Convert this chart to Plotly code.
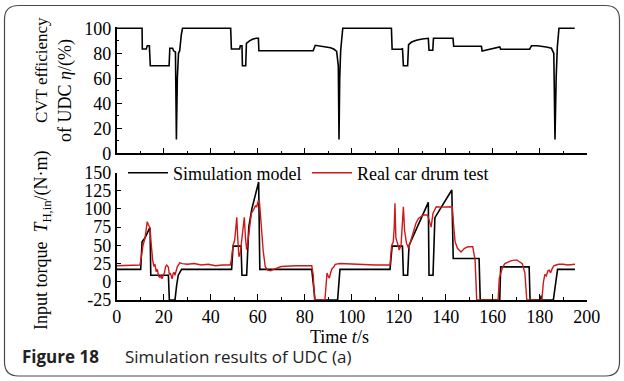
import plotly.graph_objects as go

# ---------------- data ----------------
# CVT efficiency of UDC (top panel)
eff_t = [0, 10.8, 10.9, 12.6, 13.0, 13.9, 14.3, 22.3, 22.6, 23.8, 24.2, 25.0, 25.4, 25.8, 26.3, 26.8, 27.5, 28.0,
         48.5, 48.8, 52.3, 52.6, 53.3, 53.5, 54.9, 55.2, 56.5, 58.0, 59.4, 60.3, 60.5,
         83.6, 84.5, 87.0, 89.0, 91.0, 92.5, 93.6, 94.3, 94.6, 94.9, 95.3, 96.2,
         116.9, 117.2, 121.3, 121.6, 122.0, 123.8, 124.2, 125.5, 127.5, 130.0, 132.6, 132.9, 134.5, 134.8,
         143.1, 143.4, 155.2, 155.5, 158.0, 161.0, 163.0, 163.4, 175.7, 176.5, 179.0, 182.8, 185.0, 186.0,
         186.5, 187.0, 187.5, 188.2, 194.9]
eff_v = [100, 100, 83.5, 83.5, 86, 86, 70, 70, 84, 84, 82, 81, 11, 60, 80, 82, 95, 100,
         100, 83.5, 83.5, 86, 86, 70, 70, 88, 90, 91.5, 92, 92, 82,
         82, 86.4, 85.8, 85.2, 84.4, 83.2, 81.5, 70, 11, 60, 82, 100,
         100, 83.3, 83.3, 84, 70, 70, 87, 89, 90.5, 91.5, 92, 82.5, 82.5, 92,
         92, 85.6, 85.6, 81.8, 83, 84.5, 85, 83.3, 83.3, 86, 86, 85, 84, 80,
         11, 60, 85, 100, 100]

# Input torque: simulation model
sim_t = [0, 10.2, 10.8, 12.0, 13.9, 14.2, 14.5, 22.0, 22.4, 24.8, 25.5, 26.2, 27.6,
         48.9, 49.5, 52.9, 53.3, 55.3, 56.2, 57.5, 60.4, 60.9,
         83.0, 84.4, 94.0, 95.0,
         116.3, 117.2, 121.6, 122.0, 123.8, 124.4, 132.6, 132.9, 134.6, 135.4, 142.6, 143.2,
         154.2, 154.7, 163.0, 163.4, 175.5, 175.9, 180.4, 180.6, 180.8, 185.8, 187.6, 195.0]
sim_v = [17, 17, 55, 60, 73, 73, 9, 9, -25, -25, -5, 9, 17,
         17, 49, 49, 9, 9, 75, 100, 137, 17,
         17, -25, -25, 17,
         17, 49, 49, 9, 9, 50, 109, 9, 9, 88, 126, 32,
         32, -25, -25, 20.5, 20.5, -25, -25, -19, -25, -25, 17, 17]

# Input torque: real car drum test
real_t = [0, 5, 9.9, 10.5, 11.2, 12.0, 12.5, 13.0, 13.4, 14.2, 14.6, 14.9, 15.3, 15.8, 16.3, 16.8, 17.3, 17.8,
          18.4, 18.8, 19.3, 19.8, 20.3, 20.8, 21.3, 22.0, 22.4, 22.8, 23.2, 23.6, 24.0, 24.4, 24.8, 25.3,
          25.8, 26.3, 26.8, 28, 30, 33, 36, 39, 42, 45, 48.3,
          48.8, 49.5, 50.2, 50.7, 51.1, 51.5, 52.0, 52.6, 53.2, 53.8, 54.3, 54.8, 55.3, 56.0, 56.6, 57.3,
          58.2, 59.0, 59.6, 60.3, 60.8, 61.5, 62.3, 63.2, 64.3, 65.5, 67, 70, 73, 76, 80, 83,
          83.6, 84.2, 88.6, 89.1, 89.5, 90.0, 90.5, 91.0, 91.6, 92.3, 93.0, 95, 100, 105, 110, 116.3,
          117.0, 117.7, 118.1, 118.4, 118.8, 119.5, 120.2, 121.0, 121.5, 122.0, 122.5, 123.3, 124.2,
          125.0, 126.2, 127.3, 128.4, 129.5, 130.5, 132.3, 133.3, 133.8, 134.6, 136.0, 138, 140, 142.8,
          143.3, 144.0, 145.0, 146.5, 148.0, 149.5, 151.5, 152.5, 153.2,
          162.3, 162.8, 163.4, 164.2, 165.2, 166.5, 168.0, 170.2, 171.6, 172.6, 173.2, 173.7, 174.5,
          180.9, 181.6, 182.2, 182.8, 183.5, 184.1, 184.6, 185.3, 186.0, 187.0, 188.1, 190, 192, 195]
real_v = [22, 22, 23, 35, 50, 59, 68, 82.5, 79, 74, 55, 40, 30, 21, 24, 14, 17, 8,
          6, 9, 4, 9, 12, 21, 23, 20, 10, 12, 9, 4, 11, 13, 9, 16,
          21, 23, 26, 25, 24, 25, 23, 24, 22, 23, 23,
          30, 50, 57, 70, 88.5, 60, 34.5, 40, 55, 70, 88.5, 60, 44, 60, 76, 94,
          98.5, 104, 103, 112, 108, 75, 43.6, 20.7, 16, 15, 17.4, 21, 22, 22, 22, 22,
          10, -25, -25, 0, 12, 8, 5, 12, 18, 20, 24, 25, 24, 24, 23, 23,
          50, 55, 75, 107.7, 60, 52.8, 43.6, 50, 80, 103, 70, 53, 46,
          55, 71, 80, 87, 90, 91.7, 91.7, 82.5, 75, 94, 103, 102.5, 103, 103,
          80, 55, 46, 41, 46, 48, 48, 30, -25,
          -25, 5, 12, 20, 25, 27, 29, 30, 27, 25, 18, 12, -25,
          -25, 0, 10, 8, 15, 16, 12, 18, 22, 23, 24, 24, 23, 24]

# axis ticks / labels
x_ticks = [0, 20, 40, 60, 80, 100, 120, 140, 160, 180, 200]
x_labels = [str(v) for v in x_ticks]
eff_ticks = [0, 20, 40, 60, 80, 100]
eff_labels = [str(v) for v in eff_ticks]
tq_ticks = [-25, 0, 25, 50, 75, 100, 125, 150]
tq_labels = [str(v) for v in tq_ticks]

# ---------------- figure ----------------
W, H = 624, 381
SERIF = "Liberation Serif"
RED = "#d01818"

def px(x):
    return x / W

def py(y):
    return 1 - y / H

fig = go.Figure()
fig.add_trace(go.Scatter(x=eff_t, y=eff_v, mode="lines", line=dict(color="black", width=1.6),
                         showlegend=False, xaxis="x", yaxis="y"))
fig.add_trace(go.Scatter(x=sim_t, y=sim_v, mode="lines", name="Simulation model",
                         line=dict(color="black", width=1.6), xaxis="x2", yaxis="y2"))
fig.add_trace(go.Scatter(x=real_t, y=real_v, mode="lines", name="Real car drum test",
                         line=dict(color=RED, width=1.4), xaxis="x2", yaxis="y2"))

axis_common = dict(showline=True, linecolor="black", linewidth=1.5, ticks="inside",
                   tickcolor="black", tickwidth=1.2, showgrid=False, zeroline=False,
                   automargin=False,
                   tickfont=dict(family=SERIF, size=18, color="black"))

xdom = [px(116.7), px(586.7)]
fig.update_layout(
    template="none",
    width=W, height=H, autosize=False,
    margin=dict(l=0, r=0, t=0, b=0, pad=0, autoexpand=False),
    paper_bgcolor="white", plot_bgcolor="white",
    xaxis=dict(domain=xdom, anchor="y", range=[0, 200], tickvals=x_ticks, ticktext=x_labels,
               showticklabels=False, ticklen=6,
               minor=dict(dtick=10, tick0=0, ticks="inside", ticklen=3, tickcolor="black"),
               **axis_common),
    yaxis=dict(domain=[py(153.3), py(27.05)], anchor="x", range=[0, 101],
               tickvals=eff_ticks, ticktext=eff_labels, ticklen=6,
               minor=dict(dtick=10, tick0=0, ticks="inside", ticklen=3, tickcolor="black"),
               **axis_common),
    xaxis2=dict(domain=xdom, anchor="y2", range=[0, 200], tickvals=x_ticks, ticktext=x_labels,
                ticklen=6,
                minor=dict(dtick=10, tick0=0, ticks="inside", ticklen=3, tickcolor="black"),
                **axis_common),
    yaxis2=dict(domain=[py(300), py(172.5)], anchor="x2", range=[-25, 150],
                tickvals=tq_ticks, ticktext=tq_labels, ticklen=5,
                **axis_common),
    legend=dict(orientation="h", x=px(123), y=py(173), xanchor="left", yanchor="middle",
                font=dict(family=SERIF, size=18, color="black"), bgcolor="rgba(0,0,0,0)",
                borderwidth=0,
                entrywidth=129, entrywidthmode="pixels", itemwidth=40, tracegroupgap=0),
)

ann_font = dict(family=SERIF, size=18, color="black")

def note(text, x, y, angle=0, xanchor="center", font=ann_font):
    fig.add_annotation(text=text, x=px(x), y=py(y), xref="paper", yref="paper",
                       textangle=angle, showarrow=False, xanchor=xanchor, yanchor="middle",
                       font=font)

note("CVT efficiency", 42, 70, -90, font=dict(family=SERIF, size=17, color="black"))
note("of UDC <i>η</i>/(%)", 65, 91, -90)
note("Input torque  <i>T</i><sub>H,in</sub>/(N·m)", 42, 240, -90)
note("Time <i>t</i>/s", 340, 336.5)
note("<b>Figure 18</b>", 20, 356, xanchor="left",
     font=dict(family="Open Sans", size=17, color="#222222"))
note("Simulation results of UDC (a)", 123, 356, xanchor="left",
     font=dict(family="Open Sans", size=17, color="#222222"))

# rounded frame
x0, x1, y0, y1 = px(4.5), px(619.5), py(376), py(5.5)
rx, ry = 14 / W, 14 / H
path = (f"M{x0+rx},{y1} L{x1-rx},{y1} Q{x1},{y1} {x1},{y1-ry} L{x1},{y0+ry} "
        f"Q{x1},{y0} {x1-rx},{y0} L{x0+rx},{y0} Q{x0},{y0} {x0},{y0+ry} "
        f"L{x0},{y1-ry} Q{x0},{y1} {x0+rx},{y1} Z")
fig.add_shape(type="path", path=path, xref="paper", yref="paper",
              line=dict(color="#4a4a4a", width=1.2), fillcolor="rgba(0,0,0,0)", layer="below")

fig.write_html(
    "out.html",
    post_script="document.body.style.margin='0';document.body.style.overflow='hidden';",
)
